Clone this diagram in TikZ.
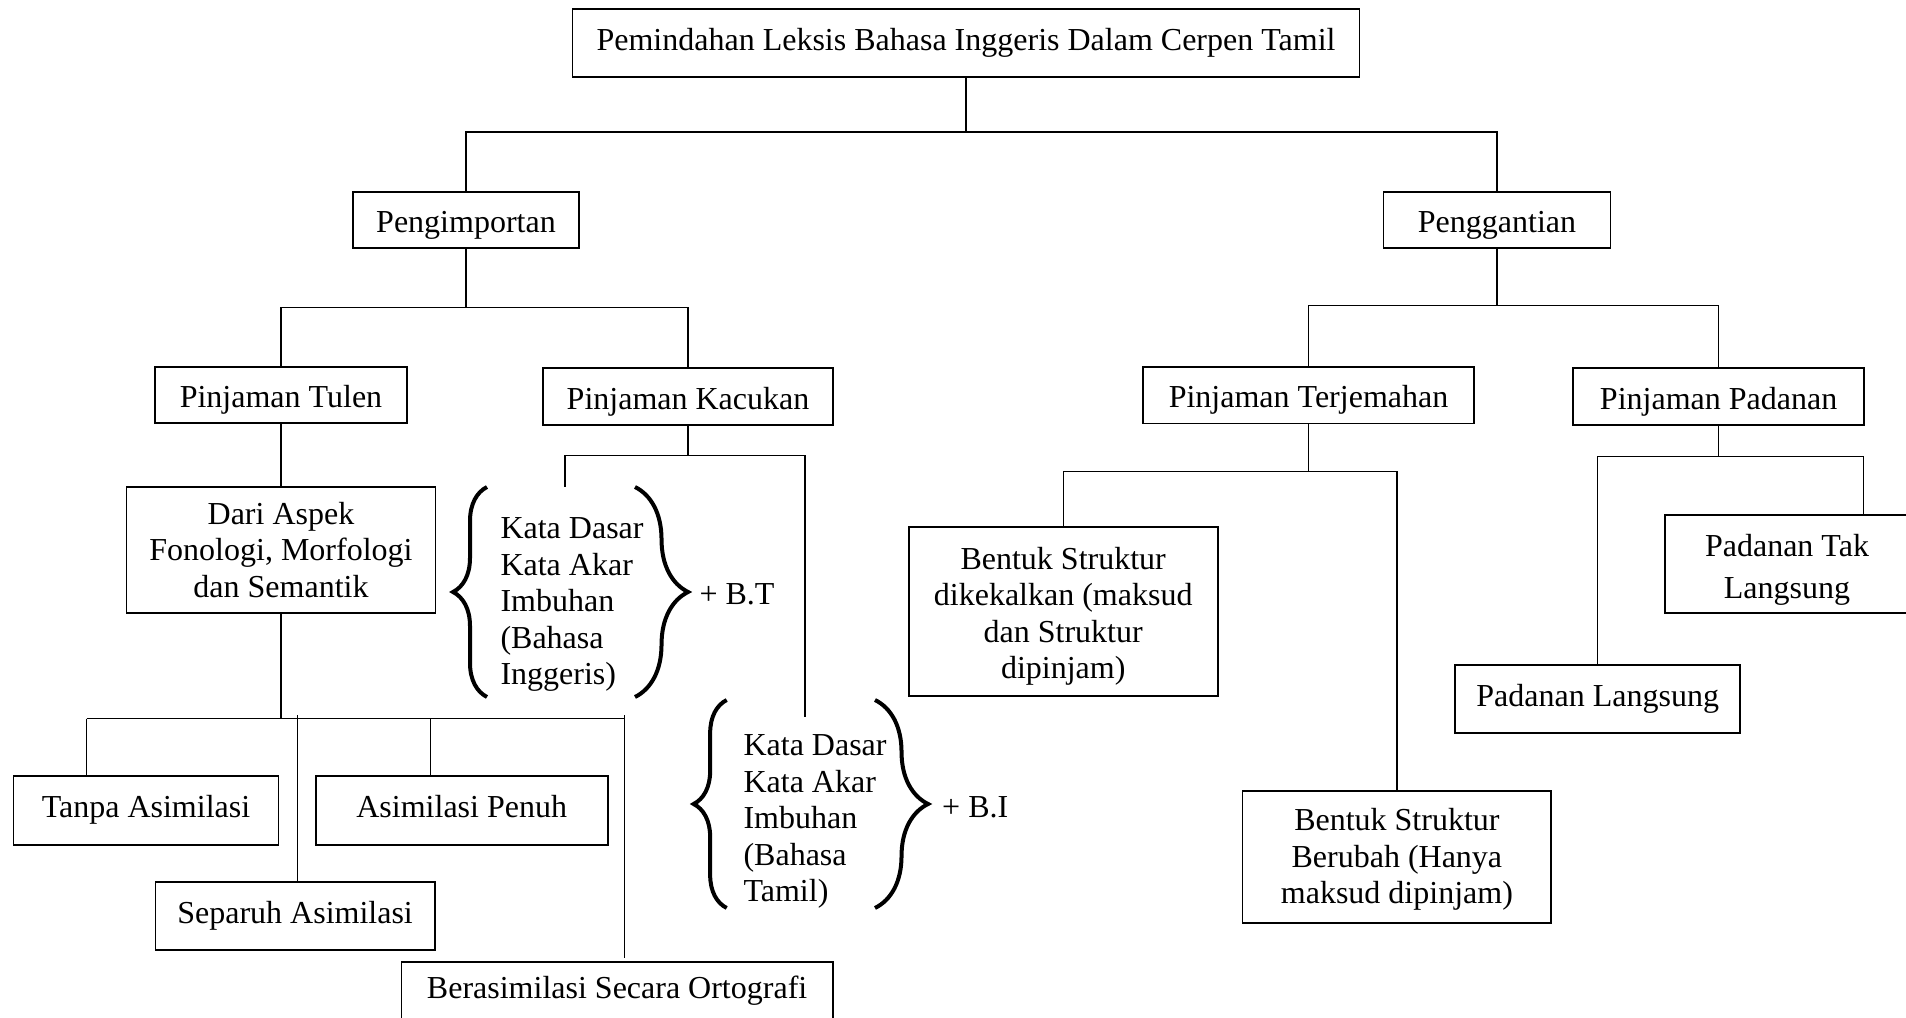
\documentclass[tikz,border=0pt]{standalone}
\usepackage{fontspec}
\setmainfont{Liberation Serif}
\usetikzlibrary{decorations.pathreplacing}
\newcommand{\topgap}[1]{\rule{0pt}{#1}}
\tikzset{
  box/.style={draw, line width=0.7pt, inner sep=0pt, align=center, font=\fontsize{12}{13.7}\selectfont},
  boxsize/.style 2 args={minimum width=#1*0.375pt, minimum height=#2*0.375pt},
  oneline/.style={text height=8.2pt, text depth=2.6pt},
  lowline/.style={text height=11pt, text depth=1.6pt},
  note/.style={inner sep=0pt, align=left, font=\fontsize{12}{13.7}\selectfont},
  link/.style={line width=0.5pt},
  curly/.style={decorate, decoration={brace, amplitude=#1}, line width=1.5pt},
}
\begin{document}
\begin{tikzpicture}[x=0.375pt, y=-0.375pt]
      \useasboundingbox (0,0) rectangle (1906,1018);
      \node[box, boxsize={787}{67.6}] (root) at (966,42.8) {Pemindahan Leksis Bahasa Inggeris Dalam Cerpen Tamil};
      \node[box, lowline, boxsize={226}{56}] (imp) at (466,219.7) {Pengimportan};
      \node[box, lowline, boxsize={227}{56}] (ganti) at (1497,219.7) {Penggantian};
      \node[box, lowline, boxsize={251.6}{56.4}] (tulen) at (281,395) {Pinjaman Tulen};
      \node[box, lowline, boxsize={290.2}{56.4}] (kacukan) at (688,396.6) {Pinjaman Kacukan};
      \node[box, lowline, boxsize={330.2}{56.8}] (terjemah) at (1308.5,395.1) {Pinjaman Terjemahan};
      \node[box, lowline, boxsize={290.8}{56.4}] (padanan) at (1718.6,396.6) {Pinjaman Padanan};
      \node[box, boxsize={309}{126.7}] (aspek) at (281,550) {Dari Aspek\\Fonologi, Morfologi\\dan Semantik};
      \node[box, boxsize={308.8}{169.3}] (kekal) at (1063.2,611.4) {\topgap{11.9pt}Bentuk Struktur\\dikekalkan (maksud\\dan Struktur\\dipinjam)};
      \node[box, boxsize={308.8}{132}] (ubah) at (1396.9,857) {\topgap{10.4pt}Bentuk Struktur\\Berubah (Hanya\\maksud dipinjam)};
      \node[box, boxsize={244}{97.7}, font=\fontsize{12}{15.5}\selectfont] (taklangsung) at (1787,563.9) {\topgap{12.7pt}Padanan Tak\\Langsung};
      \node[box, oneline, boxsize={285.4}{67.7}] (langsung) at (1597.7,698.9) {Padanan Langsung};
      \node[box, oneline, boxsize={265}{69}] (tanpa) at (146,810.5) {Tanpa Asimilasi};
      \node[box, oneline, boxsize={292}{69}] (penuh) at (461.7,810.5) {Asimilasi Penuh};
      \node[box, oneline, boxsize={279.2}{68.3}] (separuh) at (295.1,916) {Separuh Asimilasi};
      \node[box, oneline, boxsize={431.3}{59}] (orto) at (617.1,991.2) {Berasimilasi Secara Ortografi};
      % kata dasar groups
      \node[note, anchor=north west] (inggeris) at (500,517) {Kata Dasar\\Kata Akar\\Imbuhan\\(Bahasa\\Inggeris)};
      \node[note, anchor=north west] (tamil) at (743,734) {Kata Dasar\\Kata Akar\\Imbuhan\\(Bahasa\\Tamil)};
      \node[note, anchor=base west] (bt) at (699,605) {+ B.T};
      \node[note, anchor=base west] (bi) at (941.7,818) {+ B.I};
      \draw[curly=12.75pt] (487,697) -- (487,487);
      \draw[curly=19.9pt] (635,487) -- (635,697);
      \draw[curly=12.4pt] (726.7,908) -- (726.7,700);
      \draw[curly=19.9pt] (875,700) -- (875,908);
      % junctions
      \coordinate (rootbar) at (966,132);
      \coordinate (impbar) at (466,307.5);
      \coordinate (gantibar) at (1497,305.7);
      \coordinate (aspekL) at (86.5,718.7);
      \coordinate (aspekR) at (624.6,718.7);
      \coordinate (penuhTop) at (430.6,718.7);
      \coordinate (separuhTop) at (297.4,715.5);
      \coordinate (ortoTop) at (624.6,715.5);
      \coordinate (ortoEnd) at (624.6,957.5);
      \coordinate (kacukanL) at (565,455.3);
      \coordinate (kacukanR) at (805,455.3);
      \coordinate (kacukanLend) at (565,486.7);
      \coordinate (kacukanRend) at (805,716.7);
      \coordinate (terjemahbar) at (1309,471.4);
      \coordinate (padananbar) at (1719,456.7);
      \coordinate (takTop) at (1863.4,456.7);
      \begin{scope}[link]
        \draw (root.south) -- (root.south |- rootbar);
        \draw (imp.north) |- (rootbar) -| (ganti.north);
        \draw (imp.south) -- (imp.south |- impbar);
        \draw (tulen.north) |- (impbar) -| (kacukan.north);
        \draw (ganti.south) -- (ganti.south |- gantibar);
        \draw (terjemah.north) |- (gantibar) -| (padanan.north);
        \draw (tulen.south) -- (tulen.south |- aspek.north);
        \draw (aspek.south) -- (aspek.south |- aspekL);
        \draw (aspekL) -- (aspekR);
        \draw (aspekL) -- (aspekL |- tanpa.north);
        \draw (penuhTop) -- (penuhTop |- penuh.north);
        \draw (separuhTop) -- (separuhTop |- separuh.north);
        \draw (ortoTop) -- (ortoEnd);
        \draw (kacukan.south) -- (kacukan.south |- kacukanL);
        \draw (kacukanLend) -- (kacukanL) -- (kacukanR) -- (kacukanRend);
        \draw (terjemah.south) -- (terjemah.south |- terjemahbar);
        \draw (kekal.north) |- (terjemahbar) -| (ubah.north);
        \draw (padanan.south) -- (padanan.south |- padananbar);
        \draw (langsung.north) |- (padananbar) -- (takTop) -- (takTop |- taklangsung.north);
      \end{scope}
    \end{tikzpicture}
\end{document}
